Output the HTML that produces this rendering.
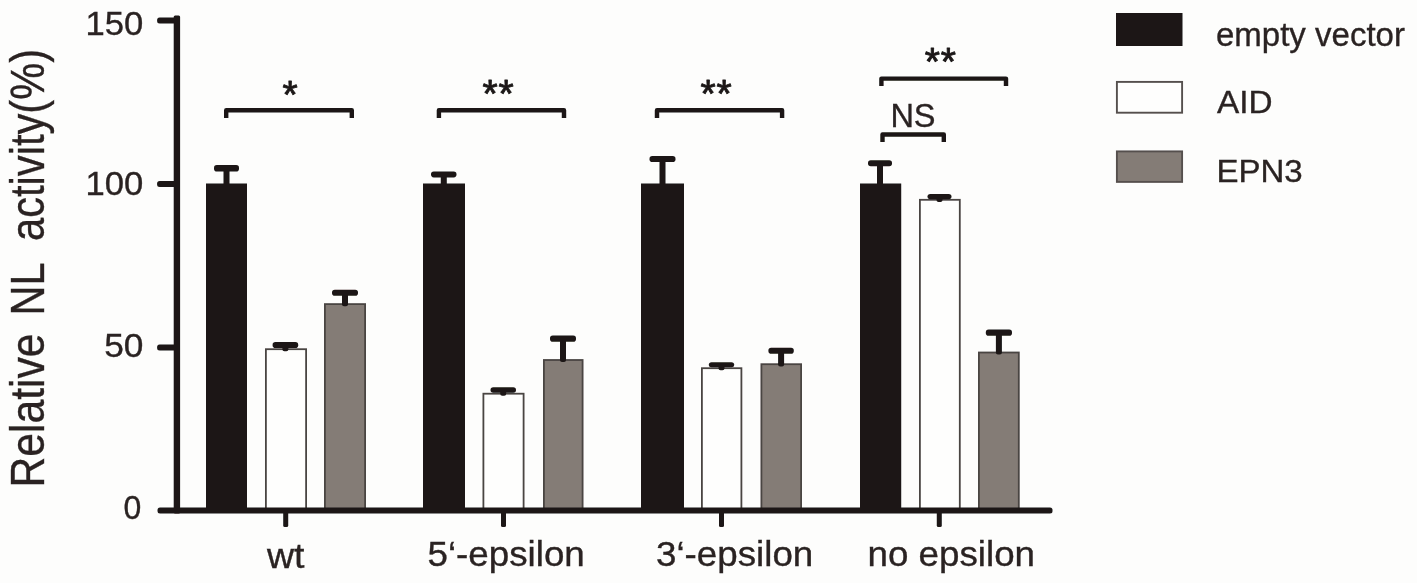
<!DOCTYPE html>
<html lang="en">
<head>
<meta charset="utf-8">
<title>Relative NL activity</title>
<style>
html,body{margin:0;padding:0;background:#fdfdfc;}
body{width:1417px;height:583px;overflow:hidden;}
svg{display:block;}
text{font-family:"Liberation Sans",Arial,Helvetica,sans-serif;}
</style>
</head>
<body>
<svg width="1417" height="583" viewBox="0 0 1417 583">
<defs><filter id="soft" x="0" y="0" width="1417" height="583" filterUnits="userSpaceOnUse"><feGaussianBlur stdDeviation="0.55"/></filter></defs>
<rect x="0" y="0" width="1417" height="583" fill="#fdfdfc"/>
<g filter="url(#soft)">
<rect x="206" y="183.5" width="41.0" height="327.0" fill="#1b1716"/>
<rect x="223.5" y="166.0" width="6" height="20.5" rx="2" fill="#1b1716"/>
<rect x="214" y="165" width="25.0" height="6.5" rx="2.8" fill="#1b1716"/>
<rect x="265.9" y="349.2" width="40.2" height="162.2" fill="#fefefd" stroke="#4a4543" stroke-width="1.8"/>
<rect x="282.4" y="343.0" width="6" height="8.3" rx="2" fill="#1b1716"/>
<rect x="272.6" y="342" width="25.6" height="6.0" rx="2.8" fill="#1b1716"/>
<rect x="324.9" y="304.1" width="40.2" height="207.3" fill="#847b76" stroke="#4a4543" stroke-width="1.8"/>
<rect x="342.0" y="290.7" width="6" height="15.5" rx="2" fill="#1b1716"/>
<rect x="332" y="289.7" width="26.0" height="6.0" rx="2.8" fill="#1b1716"/>
<rect x="423" y="183.5" width="42.0" height="327.0" fill="#1b1716"/>
<rect x="440.8" y="172.4" width="6" height="14.1" rx="2" fill="#1b1716"/>
<rect x="431" y="171.4" width="25.5" height="6.0" rx="2.8" fill="#1b1716"/>
<rect x="483.4" y="393.7" width="40.2" height="117.7" fill="#fefefd" stroke="#4a4543" stroke-width="1.8"/>
<rect x="500.2" y="388.3" width="6" height="7.5" rx="2" fill="#1b1716"/>
<rect x="490.5" y="387.3" width="25.5" height="5.5" rx="2.8" fill="#1b1716"/>
<rect x="543.9" y="360.0" width="38.7" height="151.4" fill="#847b76" stroke="#4a4543" stroke-width="1.8"/>
<rect x="560.0" y="336.5" width="6" height="25.6" rx="2" fill="#1b1716"/>
<rect x="550" y="335.5" width="26.0" height="6.2" rx="2.8" fill="#1b1716"/>
<rect x="641" y="183.5" width="43.0" height="327.0" fill="#1b1716"/>
<rect x="659.5" y="157.0" width="6" height="29.5" rx="2" fill="#1b1716"/>
<rect x="649.5" y="156" width="26.0" height="6.0" rx="2.8" fill="#1b1716"/>
<rect x="701.9" y="368.2" width="39.5" height="143.2" fill="#fefefd" stroke="#4a4543" stroke-width="1.8"/>
<rect x="718.5" y="363.3" width="6" height="7.0" rx="2" fill="#1b1716"/>
<rect x="708.8" y="362.3" width="25.4" height="5.0" rx="2.8" fill="#1b1716"/>
<rect x="761.4" y="364.2" width="39.7" height="147.1" fill="#847b76" stroke="#4a4543" stroke-width="1.8"/>
<rect x="778.1" y="348.7" width="6" height="17.7" rx="2" fill="#1b1716"/>
<rect x="768.4" y="347.7" width="25.4" height="6.0" rx="2.8" fill="#1b1716"/>
<rect x="860" y="183.5" width="41.2" height="327.0" fill="#1b1716"/>
<rect x="877.0" y="161.3" width="6" height="25.2" rx="2" fill="#1b1716"/>
<rect x="868" y="160.3" width="24.0" height="6.0" rx="2.8" fill="#1b1716"/>
<rect x="919.9" y="199.8" width="39.9" height="311.6" fill="#fefefd" stroke="#4a4543" stroke-width="1.8"/>
<rect x="936.5" y="195.0" width="6" height="6.9" rx="2" fill="#1b1716"/>
<rect x="927.5" y="194" width="24.0" height="5.2" rx="2.8" fill="#1b1716"/>
<rect x="978.9" y="352.5" width="39.9" height="158.9" fill="#847b76" stroke="#4a4543" stroke-width="1.8"/>
<rect x="995.9" y="330.6" width="6" height="24.0" rx="2" fill="#1b1716"/>
<rect x="985.8" y="329.6" width="26.2" height="6.1" rx="2.8" fill="#1b1716"/>
<rect x="173.7" y="15.4" width="6.4" height="498" rx="1.5" fill="#1b1716"/>
<rect x="157.5" y="507.5" width="895" height="6" rx="2.5" fill="#1b1716"/>
<rect x="157.1" y="17.4" width="20" height="6" rx="2.5" fill="#1b1716"/>
<rect x="157.1" y="180.9" width="20" height="6" rx="2.5" fill="#1b1716"/>
<rect x="157.1" y="344.4" width="20" height="6" rx="2.5" fill="#1b1716"/>
<rect x="283.2" y="510" width="5" height="17" rx="1.5" fill="#1b1716"/>
<rect x="501.0" y="510" width="5" height="17" rx="1.5" fill="#1b1716"/>
<rect x="719.0" y="510" width="5" height="17" rx="1.5" fill="#1b1716"/>
<rect x="936.8" y="510" width="5" height="17" rx="1.5" fill="#1b1716"/>
<path d="M226.2 118 V110.2 H351.8 V118" fill="none" stroke="#1b1716" stroke-width="4.4" stroke-linejoin="round" stroke-linecap="butt"/>
<path d="M438.9 118 V110.2 H564.0 V118" fill="none" stroke="#1b1716" stroke-width="4.4" stroke-linejoin="round" stroke-linecap="butt"/>
<path d="M657.0 118 V110.2 H782.1 V118" fill="none" stroke="#1b1716" stroke-width="4.4" stroke-linejoin="round" stroke-linecap="butt"/>
<path d="M881.4 86 V78.6 H1006.0 V86" fill="none" stroke="#1b1716" stroke-width="4.4" stroke-linejoin="round" stroke-linecap="butt"/>
<path d="M882.5 142 V134.5 H943.8 V142" fill="none" stroke="#1b1716" stroke-width="4.4" stroke-linejoin="round" stroke-linecap="butt"/>
<text transform="translate(143.4,34.6) scale(1.05,1)" font-size="33" text-anchor="end" fill="#2a2422" stroke="#2a2422" stroke-width="0.35" >150</text>
<text transform="translate(143.4,194.6) scale(1.05,1)" font-size="33" text-anchor="end" fill="#2a2422" stroke="#2a2422" stroke-width="0.35" >100</text>
<text transform="translate(143.4,357.1) scale(1.07,1)" font-size="33" text-anchor="end" fill="#2a2422" stroke="#2a2422" stroke-width="0.35" >50</text>
<text transform="translate(141.2,519.2) scale(0.97,1)" font-size="33" text-anchor="end" fill="#2a2422" stroke="#2a2422" stroke-width="0.35" >0</text>
<text transform="translate(267,567.8) scale(1.087,1)" font-size="34.5" text-anchor="start" fill="#2a2422" stroke="#2a2422" stroke-width="0.35" >wt</text>
<text transform="translate(427.5,565.6) scale(1.05,1)" font-size="35" text-anchor="start" fill="#2a2422" stroke="#2a2422" stroke-width="0.35" >5‘-epsilon</text>
<text transform="translate(656,565.6) scale(1.05,1)" font-size="35" text-anchor="start" fill="#2a2422" stroke="#2a2422" stroke-width="0.35" >3‘-epsilon</text>
<text transform="translate(867.5,565.6) scale(1.05,1)" font-size="35" text-anchor="start" fill="#2a2422" stroke="#2a2422" stroke-width="0.35" >no epsilon</text>
<text x="290.5" y="107.5" font-size="39" text-anchor="middle" fill="#1b1716" stroke="#1b1716" stroke-width="0.9" stroke-linejoin="round" letter-spacing="0.8">*</text>
<text x="498.5" y="107.4" font-size="39" text-anchor="middle" fill="#1b1716" stroke="#1b1716" stroke-width="0.9" stroke-linejoin="round" letter-spacing="0.8">**</text>
<text x="716.6" y="107.2" font-size="39" text-anchor="middle" fill="#1b1716" stroke="#1b1716" stroke-width="0.9" stroke-linejoin="round" letter-spacing="0.8">**</text>
<text x="940.8" y="75.1" font-size="39" text-anchor="middle" fill="#1b1716" stroke="#1b1716" stroke-width="0.9" stroke-linejoin="round" letter-spacing="0.8">**</text>
<text transform="translate(890.4,126.5) scale(1.0,1)" font-size="32.5" text-anchor="start" fill="#2a2422" stroke="#2a2422" stroke-width="0.35" >NS</text>
<rect x="1116" y="13" width="66.5" height="33" fill="#1b1716"/>
<rect x="1116.9" y="81.9" width="65.2" height="30.8" fill="#fefefd" stroke="#55504e" stroke-width="1.9"/>
<rect x="1116.9" y="151.4" width="65.2" height="30.5" fill="#847b76" stroke="#55504e" stroke-width="1.9"/>
<text transform="translate(1216,45.7) scale(1.0,1)" font-size="33" text-anchor="start" fill="#2a2422" stroke="#2a2422" stroke-width="0.35" >empty vector</text>
<text transform="translate(1217,113.3) scale(1.075,1)" font-size="31" text-anchor="start" fill="#2a2422" stroke="#2a2422" stroke-width="0.35" >AID</text>
<text transform="translate(1216.5,182) scale(1.065,1)" font-size="31" text-anchor="start" fill="#2a2422" stroke="#2a2422" stroke-width="0.35" >EPN3</text>
<text transform="translate(44.0,487.5) rotate(-90) scale(0.888,1)" font-size="48" fill="#2a2422" stroke="#2a2422" stroke-width="0.35">Relative</text>
<text transform="translate(44.0,315.5) rotate(-90) scale(0.865,1)" font-size="48" fill="#2a2422" stroke="#2a2422" stroke-width="0.35">NL</text>
<text transform="translate(44.0,241) rotate(-90) scale(0.868,1)" font-size="48" fill="#2a2422" stroke="#2a2422" stroke-width="0.35">activity(%)</text>
</g>
</svg>
</body>
</html>
